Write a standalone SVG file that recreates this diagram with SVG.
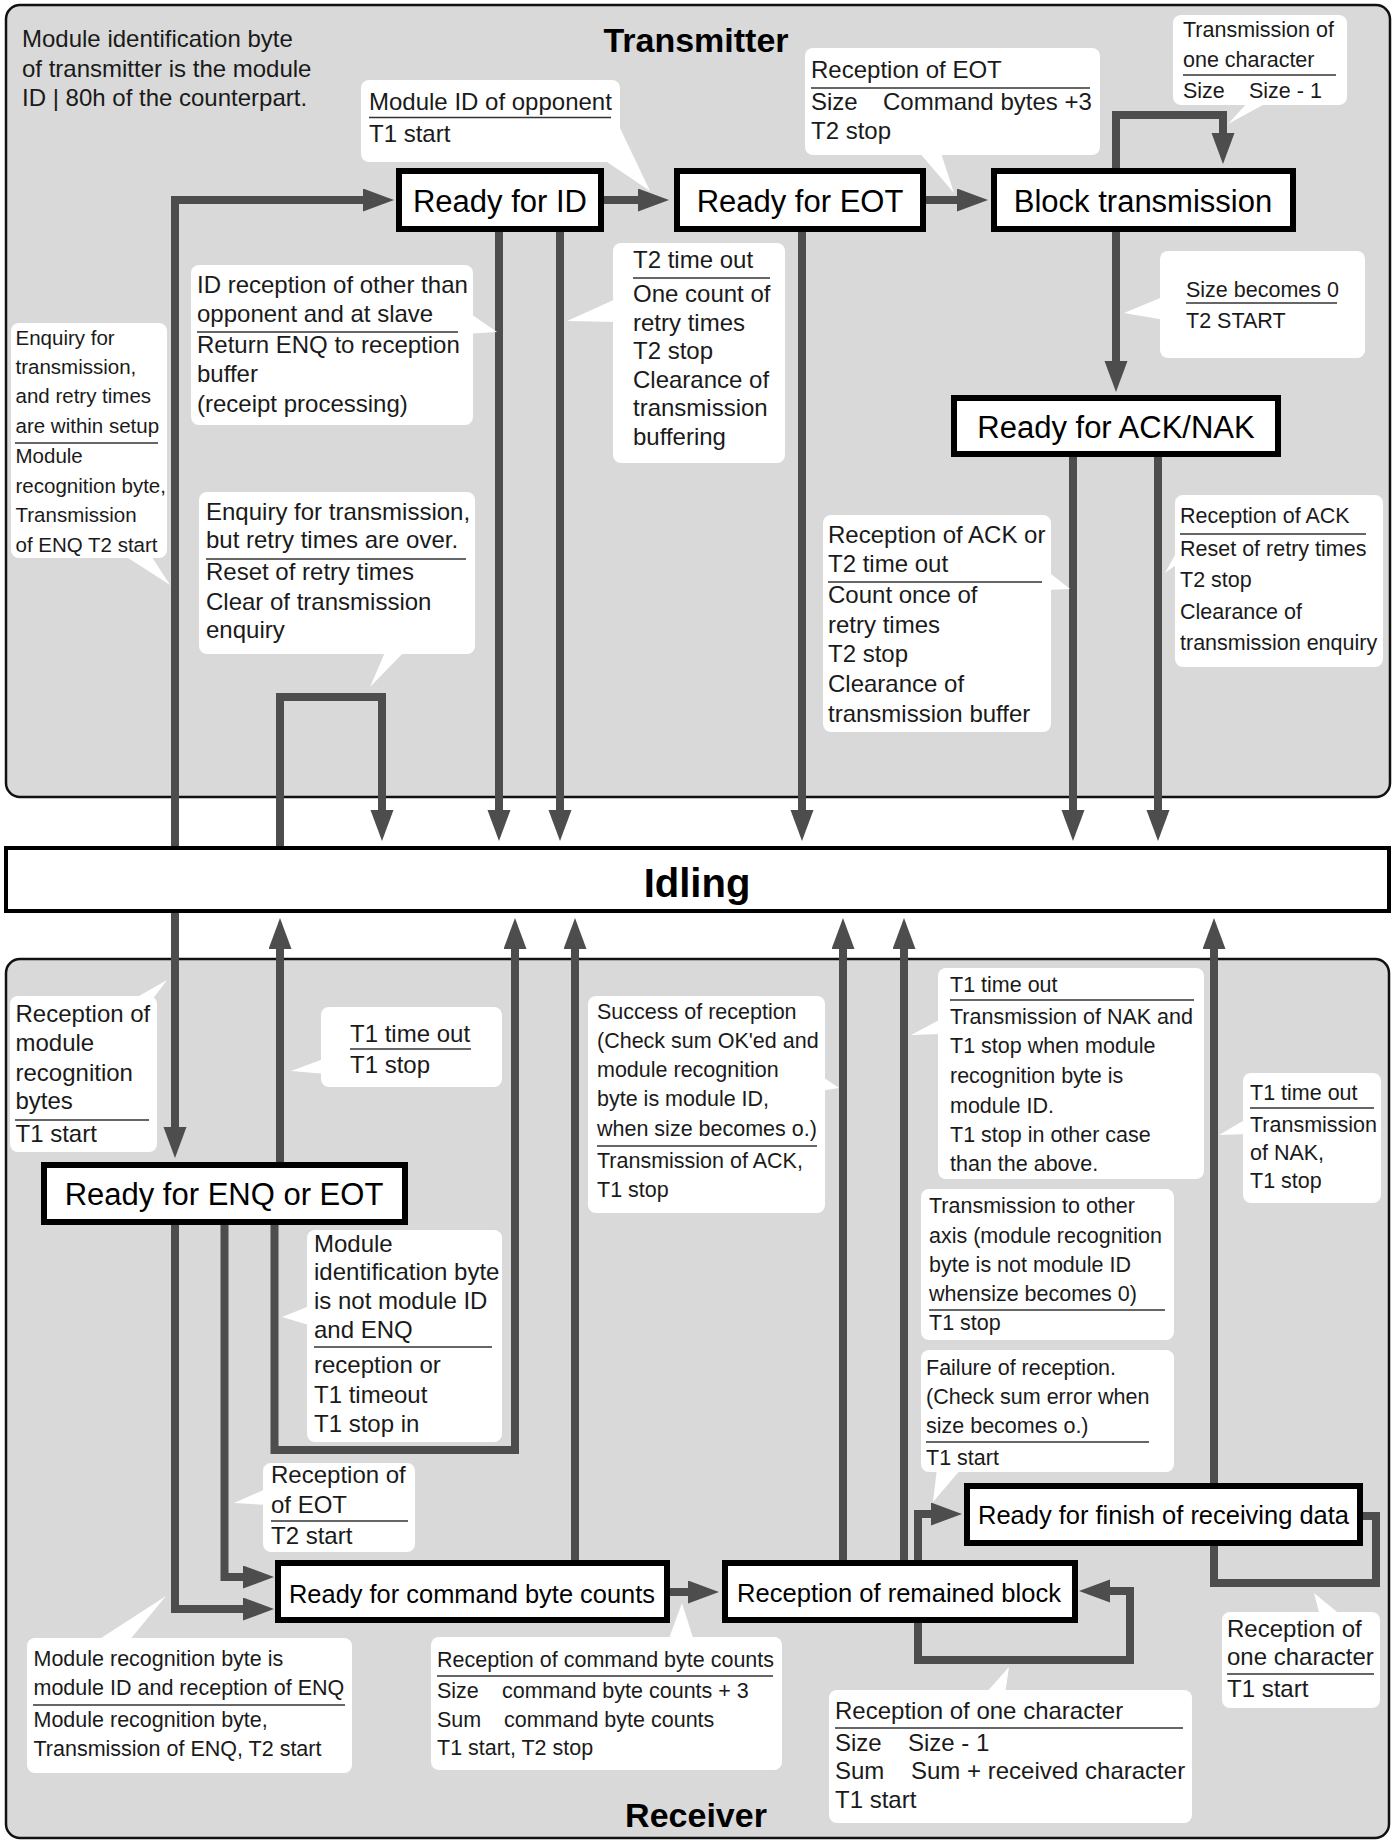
<svg xmlns="http://www.w3.org/2000/svg" width="1396" height="1841" viewBox="0 0 1396 1841">
<style>
.panel{fill:#d9d9d9;stroke:#111;stroke-width:2.5}
.node rect{fill:#fff;stroke:#000;stroke-width:6}
.node text{font-family:"Liberation Sans",Arial,sans-serif;font-size:31px;text-anchor:middle;fill:#000}
.conn{fill:none;stroke:#4d4d4d;stroke-width:8;stroke-linejoin:miter}
.arr{marker-end:url(#ah)}
.co rect,.co polygon{fill:#fff;stroke:none}
.co text,.note text{font-family:"Liberation Sans",Arial,sans-serif;fill:#1a1a1a}
.s24{font-size:24px}
.s21{font-size:21.5px}
.s20{font-size:20.5px}
.ul{stroke:#333;stroke-width:1.5}
.title{font-family:"Liberation Sans",Arial,sans-serif;font-weight:bold;font-size:34px;text-anchor:middle;fill:#000}
</style>
<defs>
<marker id="ah" markerUnits="userSpaceOnUse" markerWidth="32" markerHeight="24" refX="1" refY="11.5" orient="auto">
<path d="M0,0 L31,11.5 L0,23 Z" fill="#4d4d4d"/>
</marker>
</defs>

<rect class="panel" x="6" y="5" width="1384" height="792" rx="14"/>
<rect class="panel" x="6" y="959" width="1383" height="879" rx="14"/>
<text class="title" x="696" y="52">Transmitter</text>
<text class="title" x="696" y="1827">Receiver</text>

<g id="connectors">
<path class="conn arr" d="M175,846 V200 H364"/>
<path class="conn arr" d="M604,200 H639"/>
<path class="conn arr" d="M926,200 H958"/>
<path class="conn arr" d="M1116,168 V115 H1223 V134"/>
<path class="conn arr" d="M1116,232 V362"/>
<path class="conn arr" d="M499,232 V811"/>
<path class="conn arr" d="M560,232 V811"/>
<path class="conn arr" d="M802,232 V811"/>
<path class="conn arr" d="M1073,457 V811"/>
<path class="conn arr" d="M1158,457 V811"/>
<path class="conn arr" d="M280,846 V697 H382 V811"/>
<path class="conn arr" d="M175,913 V1128"/>
<path class="conn arr" d="M280,1162 V948"/>
<path class="conn arr" d="M274.5,1225 V1450 H515 V948"/>
<path class="conn arr" d="M175,1225 V1609 H244"/>
<path class="conn arr" d="M224.5,1225 V1577 H244"/>
<path class="conn arr" d="M670,1592 H689"/>
<path class="conn arr" d="M575,1560 V948"/>
<path class="conn arr" d="M843,1560 V948"/>
<path class="conn arr" d="M904,1560 V948"/>
<path class="conn arr" d="M918,1560 V1514 H932"/>
<path class="conn arr" d="M1214,1483 V948"/>
<path class="conn" d="M1363,1516 H1376 V1583 H1214 V1546"/>
<path class="conn arr" d="M918,1623 V1660 H1130 V1591 H1109"/>
</g>

<g id="note" class="note">
<text class="s24" x="22" y="47">Module identification byte</text>
<text class="s24" x="22" y="76.5">of transmitter is the module</text>
<text class="s24" x="22" y="106">ID | 80h of the counterpart.</text>
</g>

<g id="cB" class="co">
<rect x="361" y="80" width="259" height="82" rx="8"/>
<polygon points="604,160 620,128 650,191"/>
<text class="s24" x="369" y="110">Module ID of opponent</text>
<line class="ul" x1="369" y1="117.5" x2="611" y2="117.5"/>
<text class="s24" x="369" y="141.5">T1 start</text>
</g>

<g id="cC" class="co">
<rect x="191" y="265" width="282" height="160" rx="8"/>
<polygon points="465,310 465,334 497,332"/>
<text class="s24" x="197" y="293">ID reception of other than</text>
<text class="s24" x="197" y="322">opponent and at slave</text>
<line class="ul" x1="197" y1="332" x2="458" y2="332"/>
<text class="s24" x="197" y="353">Return ENQ to reception</text>
<text class="s24" x="197" y="382">buffer</text>
<text class="s24" x="197" y="412">(receipt processing)</text>
</g>

<g id="cD" class="co">
<rect x="613" y="243" width="172" height="220" rx="8"/>
<polygon points="618,298 618,322 567,321"/>
<text class="s24" x="633" y="268">T2 time out</text>
<line class="ul" x1="633" y1="278" x2="770" y2="278"/>
<text class="s24" x="633" y="302">One count of</text>
<text class="s24" x="633" y="330.5">retry times</text>
<text class="s24" x="633" y="359">T2 stop</text>
<text class="s24" x="633" y="387.5">Clearance of</text>
<text class="s24" x="633" y="416">transmission</text>
<text class="s24" x="633" y="444.5">buffering</text>
</g>

<g id="cE" class="co">
<rect x="805" y="48" width="295" height="107" rx="8"/>
<polygon points="917,150 940,150 954,193"/>
<text class="s24" x="811" y="78">Reception of EOT</text>
<line class="ul" x1="811" y1="88" x2="1090" y2="88"/>
<text class="s24" x="811" y="110">Size</text>
<text class="s24" x="883" y="110">Command bytes +3</text>
<text class="s24" x="811" y="139">T2 stop</text>
</g>

<g id="cF" class="co">
<rect x="1173" y="15" width="174" height="90" rx="8"/>
<polygon points="1250,100 1272,100 1228,124"/>
<text class="s21" x="1183" y="37">Transmission of</text>
<text class="s21" x="1183" y="67">one character</text>
<line class="ul" x1="1183" y1="75" x2="1336" y2="75"/>
<text class="s21" x="1183" y="98">Size</text>
<text class="s21" x="1249" y="98">Size - 1</text>
</g>

<g id="cG" class="co">
<rect x="1160" y="251" width="205" height="107" rx="8"/>
<polygon points="1165,296 1165,320 1124,313"/>
<text class="s21" x="1186" y="297">Size becomes 0</text>
<line class="ul" x1="1186" y1="303" x2="1337" y2="303"/>
<text class="s21" x="1186" y="328">T2 START</text>
</g>

<g id="cH" class="co">
<rect x="823" y="515" width="228" height="217" rx="8"/>
<polygon points="1046,570 1046,590 1070,589"/>
<text class="s24" x="828" y="543">Reception of ACK or</text>
<text class="s24" x="828" y="572">T2 time out</text>
<line class="ul" x1="828" y1="582" x2="1042" y2="582"/>
<text class="s24" x="828" y="603">Count once of</text>
<text class="s24" x="828" y="633">retry times</text>
<text class="s24" x="828" y="662">T2 stop</text>
<text class="s24" x="828" y="692">Clearance of</text>
<text class="s24" x="828" y="722">transmission buffer</text>
</g>

<g id="cI" class="co">
<rect x="1175" y="495" width="208" height="172" rx="8"/>
<polygon points="1180,546 1180,562 1165,573"/>
<text class="s21" x="1180" y="523">Reception of ACK</text>
<line class="ul" x1="1180" y1="534" x2="1366" y2="534"/>
<text class="s21" x="1180" y="556">Reset of retry times</text>
<text class="s21" x="1180" y="587">T2 stop</text>
<text class="s21" x="1180" y="619">Clearance of</text>
<text class="s21" x="1180" y="650">transmission enquiry</text>
</g>

<g id="cJ" class="co">
<rect x="11" y="323" width="156" height="235" rx="8"/>
<polygon points="122,554 150,554 170,585"/>
<text class="s20" x="15.5" y="345">Enquiry for</text>
<text class="s20" x="15.5" y="374">transmission,</text>
<text class="s20" x="15.5" y="403">and retry times</text>
<text class="s20" x="15.5" y="433">are within setup</text>
<line class="ul" x1="15" y1="443" x2="158" y2="443"/>
<text class="s20" x="15.5" y="463">Module</text>
<text class="s20" x="15.5" y="493">recognition byte,</text>
<text class="s20" x="15.5" y="522">Transmission</text>
<text class="s20" x="15.5" y="552">of ENQ T2 start</text>
</g>

<g id="cK" class="co">
<rect x="199" y="492" width="276" height="162" rx="8"/>
<polygon points="386,650 406,650 370,687"/>
<text class="s24" x="206" y="520">Enquiry for transmission,</text>
<text class="s24" x="206" y="548">but retry times are over.</text>
<line class="ul" x1="206" y1="559" x2="466" y2="559"/>
<text class="s24" x="206" y="580">Reset of retry times</text>
<text class="s24" x="206" y="610">Clear of transmission</text>
<text class="s24" x="206" y="638">enquiry</text>
</g>

<g id="cL" class="co">
<rect x="321" y="1007" width="181" height="80" rx="8"/>
<polygon points="326,1058 326,1074 291,1071"/>
<text class="s24" x="350" y="1042">T1 time out</text>
<line class="ul" x1="350" y1="1049" x2="471" y2="1049"/>
<text class="s24" x="350" y="1073">T1 stop</text>
</g>

<g id="cM" class="co">
<rect x="10" y="996" width="147" height="156" rx="8"/>
<polygon points="132,1000 152,1000 167,980"/>
<text class="s24" x="15.5" y="1022">Reception of</text>
<text class="s24" x="15.5" y="1051">module</text>
<text class="s24" x="15.5" y="1081">recognition</text>
<text class="s24" x="15.5" y="1109">bytes</text>
<line class="ul" x1="15" y1="1120" x2="149" y2="1120"/>
<text class="s24" x="15.5" y="1142">T1 start</text>
</g>

<g id="cN" class="co">
<rect x="307" y="1230" width="195" height="212" rx="8"/>
<polygon points="312,1305 312,1326 282,1317"/>
<text class="s24" x="314" y="1252">Module</text>
<text class="s24" x="314" y="1280">identification byte</text>
<text class="s24" x="314" y="1309">is not module ID</text>
<text class="s24" x="314" y="1338">and ENQ</text>
<line class="ul" x1="314" y1="1347" x2="492" y2="1347"/>
<text class="s24" x="314" y="1373">reception or</text>
<text class="s24" x="314" y="1403">T1 timeout</text>
<text class="s24" x="314" y="1432">T1 stop in</text>
</g>

<g id="cO" class="co">
<rect x="263" y="1463" width="152" height="89" rx="8"/>
<polygon points="268,1488 268,1505 234,1503"/>
<text class="s24" x="271" y="1483">Reception of</text>
<text class="s24" x="271" y="1513">of EOT</text>
<line class="ul" x1="271" y1="1521" x2="408" y2="1521"/>
<text class="s24" x="271" y="1544">T2 start</text>
</g>

<g id="cP" class="co">
<rect x="27" y="1638" width="325" height="135" rx="8"/>
<polygon points="95,1642 128,1642 166,1596"/>
<text class="s21" x="33.5" y="1666">Module recognition byte is</text>
<text class="s21" x="33.5" y="1695">module ID and reception of ENQ</text>
<line class="ul" x1="33" y1="1705" x2="345" y2="1705"/>
<text class="s21" x="33.5" y="1727">Module recognition byte,</text>
<text class="s21" x="33.5" y="1756">Transmission of ENQ, T2 start</text>
</g>

<g id="cQ" class="co">
<rect x="431" y="1637" width="351" height="133" rx="8"/>
<polygon points="668,1641 694,1641 682,1603"/>
<text class="s21" x="437" y="1667">Reception of command byte counts</text>
<line class="ul" x1="437" y1="1676" x2="773" y2="1676"/>
<text class="s21" x="437" y="1698">Size</text>
<text class="s21" x="502" y="1698">command byte counts + 3</text>
<text class="s21" x="437" y="1727">Sum</text>
<text class="s21" x="504" y="1727">command byte counts</text>
<text class="s21" x="437" y="1755">T1 start, T2 stop</text>
</g>

<g id="cR" class="co">
<rect x="588" y="996" width="237" height="217" rx="8"/>
<polygon points="820,1075 820,1091 839,1088"/>
<text class="s21" x="597" y="1019">Success of reception</text>
<text class="s21" x="597" y="1048">(Check sum OK'ed and</text>
<text class="s21" x="597" y="1077">module recognition</text>
<text class="s21" x="597" y="1106">byte is module ID,</text>
<text class="s21" x="597" y="1136">when size becomes o.)</text>
<line class="ul" x1="597" y1="1146" x2="817" y2="1146"/>
<text class="s21" x="597" y="1168">Transmission of ACK,</text>
<text class="s21" x="597" y="1197">T1 stop</text>
</g>

<g id="cS" class="co">
<rect x="938" y="968" width="266" height="211" rx="8"/>
<polygon points="943,1018 943,1034 911,1035"/>
<text class="s21" x="950" y="992">T1 time out</text>
<line class="ul" x1="950" y1="1000" x2="1194" y2="1000"/>
<text class="s21" x="950" y="1024">Transmission of NAK and</text>
<text class="s21" x="950" y="1053">T1 stop when module</text>
<text class="s21" x="950" y="1083">recognition byte is</text>
<text class="s21" x="950" y="1113">module ID.</text>
<text class="s21" x="950" y="1142">T1 stop in other case</text>
<text class="s21" x="950" y="1171">than the above.</text>
</g>

<g id="cT" class="co">
<rect x="921" y="1189" width="253" height="151" rx="8"/>
<text class="s21" x="929" y="1213">Transmission to other</text>
<text class="s21" x="929" y="1243">axis (module recognition</text>
<text class="s21" x="929" y="1272">byte is not module ID</text>
<text class="s21" x="929" y="1301">whensize becomes 0)</text>
<line class="ul" x1="929" y1="1310" x2="1165" y2="1310"/>
<text class="s21" x="929" y="1330">T1 stop</text>
</g>

<g id="cU" class="co">
<rect x="921" y="1350" width="253" height="122" rx="8"/>
<polygon points="937,1468 962,1468 933,1502"/>
<text class="s21" x="926" y="1375">Failure of reception.</text>
<text class="s21" x="926" y="1404">(Check sum error when</text>
<text class="s21" x="926" y="1433">size becomes o.)</text>
<line class="ul" x1="926" y1="1442" x2="1149" y2="1442"/>
<text class="s21" x="926" y="1465">T1 start</text>
</g>

<g id="cV" class="co">
<rect x="1243" y="1073" width="138" height="130" rx="8"/>
<polygon points="1248,1118 1248,1134 1219,1135"/>
<text class="s21" x="1250" y="1100">T1 time out</text>
<line class="ul" x1="1250" y1="1108" x2="1374" y2="1108"/>
<text class="s21" x="1250" y="1132">Transmission</text>
<text class="s21" x="1250" y="1160">of NAK,</text>
<text class="s21" x="1250" y="1188">T1 stop</text>
</g>

<g id="cW" class="co">
<rect x="1222" y="1612" width="158" height="96" rx="8"/>
<polygon points="1320,1616 1342,1616 1314,1593"/>
<text class="s24" x="1227" y="1637">Reception of</text>
<text class="s24" x="1227" y="1665">one character</text>
<line class="ul" x1="1227" y1="1674" x2="1374" y2="1674"/>
<text class="s24" x="1227" y="1697">T1 start</text>
</g>

<g id="cX" class="co">
<rect x="829" y="1690" width="363" height="133" rx="8"/>
<polygon points="985,1694 1005,1694 1009,1667"/>
<text class="s24" x="835" y="1719">Reception of one character</text>
<line class="ul" x1="835" y1="1728" x2="1183" y2="1728"/>
<text class="s24" x="835" y="1751">Size</text>
<text class="s24" x="908" y="1751">Size - 1</text>
<text class="s24" x="835" y="1779">Sum</text>
<text class="s24" x="911" y="1779">Sum + received character</text>
<text class="s24" x="835" y="1808">T1 start</text>
</g>

<g id="idling" class="node">
<rect x="6" y="848" width="1383" height="63" style="stroke-width:4"/>
<text x="697" y="897" style="font-weight:bold;font-size:40px">Idling</text>
</g>
<g id="readyForID" class="node">
<rect x="399" y="171" width="202" height="58"/>
<text x="500" y="212">Ready for ID</text>
</g>
<g id="readyForEOT" class="node">
<rect x="677" y="171" width="246" height="58"/>
<text x="800" y="212">Ready for EOT</text>
</g>
<g id="blockTransmission" class="node">
<rect x="994" y="171" width="299" height="58"/>
<text x="1143" y="212">Block transmission</text>
</g>
<g id="readyForAckNak" class="node">
<rect x="954" y="398" width="324" height="56"/>
<text x="1116" y="438">Ready for ACK/NAK</text>
</g>
<g id="readyForEnqEot" class="node">
<rect x="44" y="1165" width="361" height="57"/>
<text x="224" y="1205">Ready for ENQ or EOT</text>
</g>
<g id="readyForCmdCounts" class="node">
<rect x="278" y="1563" width="389" height="57"/>
<text x="472" y="1603" textLength="366" lengthAdjust="spacingAndGlyphs" style="font-size:26.5px">Ready for command byte counts</text>
</g>
<g id="receptionRemained" class="node">
<rect x="725" y="1563" width="350" height="57"/>
<text x="899" y="1602" textLength="324" lengthAdjust="spacingAndGlyphs" style="font-size:26.5px">Reception of remained block</text>
</g>
<g id="readyForFinish" class="node">
<rect x="967" y="1486" width="393" height="57"/>
<text x="1163.5" y="1524" textLength="371" lengthAdjust="spacingAndGlyphs" style="font-size:26px">Ready for finish of receiving data</text>
</g>
</svg>
